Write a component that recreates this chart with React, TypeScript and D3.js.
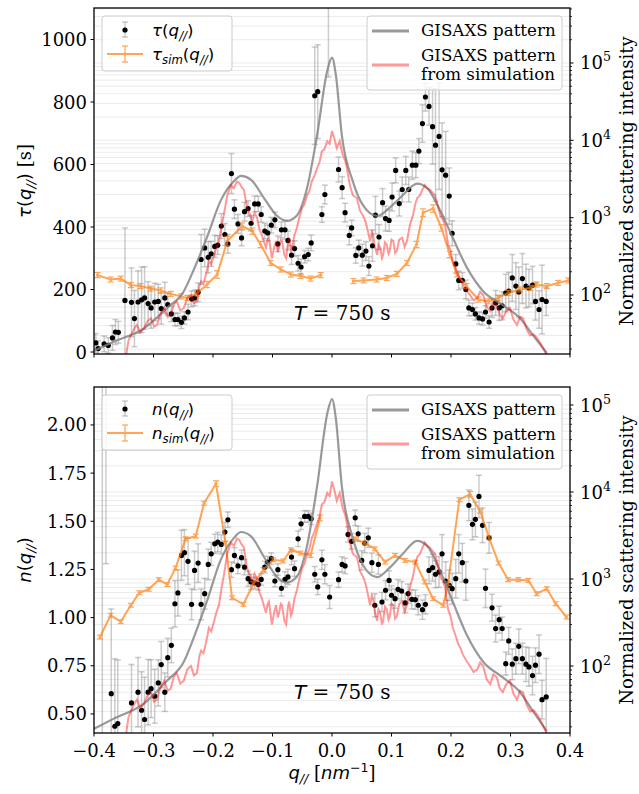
import React from 'react';
import * as d3 from 'd3';

// tick values
const qTicks = [-0.4, -0.3, -0.2, -0.1, 0, 0.1, 0.2, 0.3, 0.4];
const tauTicks = [0, 200, 400, 600, 800, 1000];
const nTicks = [0.5, 0.75, 1.0, 1.25, 1.5, 1.75, 2.0];
const intensityDecades = [1e1, 1e2, 1e3, 1e4, 1e5];

// measured relaxation time: [q, tau, err]
const tauMeasured: [number, number, number][] = [
  [-0.397, 29, 30], [-0.393, 11, 25], [-0.383, 26, 25], [-0.376, 21, 25], [-0.369, 45, 40],
  [-0.364, 64, 40], [-0.359, 63, 35], [-0.348, 165, 232], [-0.337, 159, 110], [-0.332, 107, 90],
  [-0.326, 160, 100], [-0.320, 167, 105], [-0.315, 173, 100], [-0.309, 155, 70], [-0.304, 141, 65],
  [-0.298, 160, 60], [-0.292, 162, 55], [-0.287, 139, 50], [-0.281, 173, 50], [-0.276, 152, 35],
  [-0.270, 122, 25], [-0.264, 104, 20], [-0.259, 104, 20], [-0.253, 95, 20], [-0.248, 109, 20],
  [-0.242, 128, 25], [-0.236, 170, 25], [-0.231, 173, 25], [-0.225, 191, 30], [-0.220, 296, 80],
  [-0.214, 333, 60], [-0.208, 303, 50], [-0.203, 314, 40], [-0.197, 338, 35], [-0.192, 342, 30],
  [-0.186, 403, 40], [-0.180, 376, 35], [-0.175, 346, 30], [-0.169, 571, 64], [-0.164, 457, 30],
  [-0.158, 410, 30], [-0.152, 365, 25], [-0.147, 449, 30], [-0.141, 459, 25], [-0.136, 412, 25],
  [-0.130, 474, 25], [-0.124, 474, 25], [-0.119, 440, 25], [-0.113, 387, 25], [-0.108, 381, 25],
  [-0.102, 406, 25], [-0.096, 423, 25], [-0.091, 346, 25], [-0.085, 391, 25], [-0.079, 391, 30],
  [-0.074, 357, 30], [-0.068, 310, 30], [-0.063, 331, 25], [-0.057, 284, 25], [-0.052, 272, 25],
  [-0.046, 305, 20], [-0.040, 312, 20], [-0.035, 349, 25], [-0.029, 820, 156], [-0.024, 833, 150],
  [-0.017, 440, 25], [-0.012, 504, 30], [-0.006, 1300, 420], [0.011, 584, 40], [0.017, 526, 35],
  [0.022, 446, 30], [0.029, 373, 30], [0.033, 397, 25], [0.040, 309, 25], [0.045, 333, 25],
  [0.051, 310, 35], [0.057, 323, 30], [0.062, 275, 30], [0.068, 340, 50], [0.073, 438, 60],
  [0.079, 368, 40], [0.085, 478, 45], [0.090, 427, 40], [0.096, 421, 35], [0.101, 496, 45],
  [0.107, 581, 40], [0.113, 475, 40], [0.118, 520, 40], [0.124, 581, 45], [0.129, 520, 40],
  [0.135, 598, 45], [0.141, 598, 40], [0.146, 643, 40], [0.152, 731, 60], [0.157, 816, 45],
  [0.163, 786, 60], [0.169, 721, 120], [0.174, 662, 180], [0.180, 690, 170], [0.185, 583, 150],
  [0.191, 566, 140], [0.197, 499, 90], [0.202, 380, 40], [0.208, 282, 30], [0.213, 229, 30],
  [0.219, 229, 25], [0.225, 200, 30], [0.230, 141, 25], [0.236, 136, 20], [0.241, 122, 20],
  [0.247, 109, 20], [0.253, 106, 20], [0.258, 128, 20], [0.264, 96, 20], [0.269, 141, 30],
  [0.275, 157, 40], [0.281, 141, 40], [0.286, 148, 45], [0.292, 189, 60], [0.297, 195, 60],
  [0.303, 237, 75], [0.309, 211, 75], [0.314, 192, 80], [0.320, 235, 80], [0.326, 211, 70],
  [0.331, 205, 60], [0.337, 214, 60], [0.342, 162, 60], [0.348, 136, 60], [0.353, 168, 110],
  [0.360, 162, 45],
];

// simulated relaxation time: [q, tau, err] (null = gap)
const tauSim: ([number, number, number] | null)[] = [
  [-0.394, 246, 8], [-0.372, 232, 8], [-0.355, 235, 8], [-0.338, 214, 8], [-0.322, 211, 8],
  [-0.305, 203, 8], [-0.288, 197, 8], [-0.271, 186, 8], [-0.254, 178, 8], [-0.243, 173, 8],
  [-0.226, 189, 10], [-0.210, 216, 10], [-0.193, 248, 12], [-0.176, 355, 15], [-0.151, 403, 10],
  [-0.134, 387, 10], [-0.120, 344, 10], [-0.103, 285, 8], [-0.086, 264, 8], [-0.069, 248, 8],
  [-0.053, 243, 8], [-0.036, 235, 8], [-0.019, 246, 8], null,
  [0.036, 227, 8], [0.053, 229, 8], [0.075, 232, 8], [0.092, 237, 8], [0.109, 250, 8],
  [0.126, 285, 8], [0.142, 344, 10], [0.153, 446, 12], [0.170, 459, 12], [0.184, 397, 10],
  [0.198, 312, 10], [0.210, 248, 8], [0.226, 211, 8], [0.246, 168, 8], [0.263, 162, 8],
  [0.279, 173, 8], [0.296, 189, 8], [0.316, 200, 8], [0.333, 205, 8], [0.344, 216, 8],
  [0.361, 211, 8], [0.380, 221, 8], [0.397, 229, 8],
];

// measured exponent n: [q, n, err]
const nMeasured: [number, number, number][] = [
  [-0.386, 0.2, 2.2], [-0.380, 2.55, 1.27],
  [-0.371, 0.605, 0.44], [-0.365, 0.436, 0.35], [-0.360, 0.450, 0.33], [-0.337, 0.557, 0.2],
  [-0.326, 0.613, 0.18], [-0.320, 0.519, 0.2], [-0.315, 0.471, 0.22], [-0.309, 0.613, 0.17],
  [-0.304, 0.631, 0.15], [-0.298, 0.592, 0.14], [-0.292, 0.661, 0.12], [-0.287, 0.756, 0.12],
  [-0.281, 0.613, 0.1], [-0.276, 0.792, 0.1], [-0.270, 0.856, 0.09], [-0.264, 1.072, 0.12],
  [-0.259, 1.128, 0.12], [-0.253, 1.323, 0.13], [-0.248, 1.337, 0.12], [-0.242, 1.292, 0.12],
  [-0.236, 1.069, 0.08], [-0.231, 1.245, 0.1], [-0.225, 1.283, 0.1], [-0.220, 1.069, 0.08],
  [-0.214, 1.124, 0.08], [-0.208, 1.276, 0.08], [-0.203, 1.331, 0.06], [-0.197, 1.383, 0.05],
  [-0.192, 1.392, 0.05], [-0.186, 1.380, 0.05], [-0.180, 1.444, 0.05], [-0.175, 1.508, 0.04],
  [-0.169, 1.249, 0.04], [-0.164, 1.323, 0.04], [-0.158, 1.268, 0.04], [-0.152, 1.311, 0.04],
  [-0.147, 1.262, 0.04], [-0.141, 1.202, 0.04], [-0.136, 1.185, 0.04], [-0.130, 1.179, 0.03],
  [-0.124, 1.172, 0.03], [-0.119, 1.198, 0.03], [-0.113, 1.262, 0.03], [-0.108, 1.288, 0.03],
  [-0.102, 1.306, 0.03], [-0.096, 1.190, 0.03], [-0.091, 1.249, 0.03], [-0.085, 1.152, 0.04],
  [-0.079, 1.198, 0.04], [-0.074, 1.211, 0.04], [-0.068, 1.314, 0.04], [-0.063, 1.254, 0.04],
  [-0.057, 1.409, 0.04], [-0.052, 1.487, 0.03], [-0.046, 1.525, 0.03], [-0.040, 1.525, 0.03],
  [-0.035, 1.513, 0.03], [-0.029, 1.225, 0.04], [-0.024, 1.159, 0.04], [-0.017, 1.300, 0.05],
  [-0.012, 1.225, 0.05], [-0.004, 1.107, 0.06], [0.011, 1.197, 0.04], [0.017, 1.276, 0.04],
  [0.022, 1.268, 0.04], [0.027, 1.432, 0.04], [0.033, 1.396, 0.04], [0.039, 1.518, 0.04],
  [0.044, 1.435, 0.04], [0.050, 1.297, 0.05], [0.055, 1.387, 0.05], [0.061, 1.414, 0.05],
  [0.067, 1.285, 0.05], [0.072, 1.064, 0.06], [0.078, 1.276, 0.05], [0.084, 1.081, 0.05],
  [0.090, 1.142, 0.05], [0.096, 1.193, 0.05], [0.100, 1.116, 0.05], [0.106, 1.098, 0.05],
  [0.111, 1.147, 0.05], [0.117, 1.138, 0.05], [0.123, 1.076, 0.05], [0.128, 1.124, 0.05],
  [0.134, 1.095, 0.05], [0.140, 1.093, 0.05], [0.145, 1.064, 0.05], [0.152, 1.041, 0.05],
  [0.157, 1.069, 0.05], [0.163, 1.245, 0.07], [0.169, 1.259, 0.07], [0.174, 1.225, 0.07],
  [0.180, 1.237, 0.08], [0.185, 1.331, 0.1], [0.191, 1.190, 0.1], [0.197, 1.168, 0.08],
  [0.202, 1.150, 0.08], [0.208, 1.202, 0.1], [0.213, 1.331, 0.1], [0.219, 1.285, 0.1],
  [0.225, 1.190, 0.1], [0.230, 1.583, 0.08], [0.236, 1.484, 0.08], [0.241, 1.510, 0.09],
  [0.247, 1.629, 0.11], [0.253, 1.479, 0.09], [0.258, 1.152, 0.1], [0.264, 1.414, 0.08],
  [0.269, 1.051, 0.07], [0.275, 0.943, 0.07], [0.281, 0.989, 0.07], [0.286, 0.943, 0.06],
  [0.292, 0.761, 0.06], [0.297, 0.879, 0.07], [0.303, 0.758, 0.08], [0.309, 0.787, 0.08],
  [0.314, 0.851, 0.09], [0.320, 0.787, 0.08], [0.326, 0.758, 0.09], [0.331, 0.744, 0.1],
  [0.337, 0.699, 0.1], [0.342, 0.753, 0.09], [0.348, 0.810, 0.1], [0.353, 0.574, 0.1],
  [0.360, 0.588, 0.2],
];

// simulated exponent n: [q, n, err] (null = gap)
const nSim: ([number, number, number] | null)[] = [
  [-0.390, 0.899, 0.01], [-0.372, 1.012, 0.01], [-0.355, 0.979, 0.01], [-0.338, 1.064, 0.01],
  [-0.324, 1.129, 0.01], [-0.308, 1.147, 0.01], [-0.291, 1.197, 0.01], [-0.277, 1.172, 0.01],
  [-0.263, 1.257, 0.01], [-0.246, 1.409, 0.01], [-0.229, 1.423, 0.01], [-0.215, 1.594, 0.01],
  [-0.195, 1.695, 0.015], [-0.179, 1.387, 0.01], [-0.168, 1.103, 0.01], [-0.149, 1.069, 0.01],
  [-0.132, 1.176, 0.01], [-0.115, 1.249, 0.01], [-0.099, 1.300, 0.01], [-0.082, 1.294, 0.01],
  [-0.069, 1.352, 0.01], [-0.053, 1.335, 0.01], [-0.036, 1.323, 0.01], [-0.020, 1.517, 0.015], null,
  [0.039, 1.409, 0.01], [0.055, 1.387, 0.01], [0.072, 1.357, 0.01], [0.089, 1.288, 0.01],
  [0.106, 1.323, 0.01], [0.123, 1.297, 0.01], [0.140, 1.288, 0.01], [0.156, 1.185, 0.01],
  [0.170, 1.098, 0.01], [0.187, 1.064, 0.01], [0.195, 1.176, 0.01], [0.214, 1.612, 0.01],
  [0.232, 1.640, 0.015], [0.249, 1.553, 0.01], [0.264, 1.414, 0.01], [0.280, 1.283, 0.01],
  [0.296, 1.197, 0.01], [0.313, 1.197, 0.01], [0.330, 1.193, 0.01], [0.344, 1.124, 0.01],
  [0.361, 1.150, 0.01], [0.376, 1.072, 0.01], [0.394, 1.003, 0.01],
];

// GISAXS intensity profile: [q, intensity]
const gisaxsPattern: [number, number][] = [
  [-0.400, 19], [-0.366, 25], [-0.316, 37], [-0.277, 68], [-0.249, 112], [-0.232, 215],
  [-0.210, 560], [-0.187, 1660], [-0.165, 2950], [-0.153, 3470], [-0.136, 3090], [-0.114, 1780],
  [-0.092, 1050], [-0.076, 910], [-0.059, 1070], [-0.042, 2400], [-0.025, 11700], [-0.008, 79400],
  [0.000, 117000], [0.0064, 70800], [0.0165, 11700], [0.035, 2950], [0.052, 1450], [0.076, 1050],
  [0.097, 1350], [0.119, 1950], [0.143, 2750], [0.160, 2400], [0.182, 1230], [0.203, 550],
  [0.227, 224], [0.254, 112], [0.287, 74], [0.316, 50], [0.338, 30], [0.361, 17.8],
];

// GISAXS intensity from simulation: [q, intensity]
const gisaxsSim: [number, number][] = [
  [-0.346, 16.6], [-0.342, 26], [-0.338, 30], [-0.333, 36], [-0.328, 41], [-0.322, 33],
  [-0.316, 37], [-0.310, 46], [-0.304, 50], [-0.299, 39], [-0.294, 41], [-0.288, 58],
  [-0.282, 68], [-0.276, 52], [-0.271, 55], [-0.266, 75], [-0.261, 83], [-0.255, 63],
  [-0.249, 68], [-0.243, 92], [-0.237, 100], [-0.232, 78], [-0.227, 83], [-0.223, 130],
  [-0.220, 151], [-0.216, 140], [-0.212, 182], [-0.209, 230], [-0.207, 275], [-0.203, 250],
  [-0.198, 331], [-0.194, 420], [-0.190, 500], [-0.186, 760], [-0.182, 1070], [-0.176, 1950],
  [-0.170, 2630], [-0.165, 2400], [-0.160, 2900], [-0.156, 2820], [-0.152, 2500], [-0.148, 2290],
  [-0.143, 1350], [-0.138, 1100], [-0.134, 910], [-0.130, 1150], [-0.126, 1000], [-0.122, 700],
  [-0.118, 600], [-0.114, 480], [-0.111, 410], [-0.108, 520], [-0.106, 550], [-0.103, 380],
  [-0.101, 300], [-0.097, 420], [-0.094, 500], [-0.091, 360], [-0.089, 410], [-0.086, 520],
  [-0.084, 500], [-0.080, 330], [-0.077, 300], [-0.074, 480], [-0.072, 550], [-0.069, 380],
  [-0.067, 410], [-0.063, 600], [-0.059, 740], [-0.055, 1000], [-0.050, 1350], [-0.046, 1500],
  [-0.042, 1950], [-0.038, 2200], [-0.034, 2950], [-0.030, 3400], [-0.025, 4370], [-0.021, 5200],
  [-0.017, 7240], [-0.013, 7600], [-0.008, 9770], [-0.004, 9000], [0.000, 13200], [0.004, 10500],
  [0.008, 7940], [0.013, 9770], [0.018, 6460], [0.022, 5500], [0.025, 4370], [0.030, 2630],
  [0.035, 1950], [0.042, 1780], [0.047, 1230], [0.052, 1070], [0.056, 900], [0.059, 740],
  [0.064, 500], [0.067, 650], [0.069, 600], [0.072, 420], [0.076, 330], [0.078, 450],
  [0.081, 410], [0.084, 300], [0.086, 330], [0.089, 480], [0.092, 450], [0.095, 340],
  [0.097, 370], [0.100, 520], [0.103, 500], [0.106, 350], [0.109, 370], [0.113, 520],
  [0.118, 550], [0.122, 420], [0.126, 500], [0.131, 810], [0.136, 1070], [0.140, 1500],
  [0.143, 1780], [0.148, 1950], [0.152, 2300], [0.156, 2630], [0.160, 2400], [0.165, 2290],
  [0.169, 2100], [0.173, 1950], [0.178, 1400], [0.182, 1070], [0.186, 950], [0.190, 810],
  [0.195, 450], [0.199, 380], [0.203, 275], [0.208, 220], [0.212, 180], [0.216, 160],
  [0.220, 135], [0.226, 115], [0.232, 100], [0.238, 85], [0.244, 91], [0.249, 110],
  [0.254, 100], [0.260, 70], [0.266, 62], [0.271, 80], [0.277, 74], [0.282, 55],
  [0.287, 50], [0.293, 62], [0.299, 68], [0.305, 48], [0.311, 41], [0.316, 52],
  [0.321, 50], [0.327, 36], [0.333, 30], [0.339, 31], [0.345, 27.5], [0.350, 24],
  [0.355, 20.4], [0.361, 16.6],
];

const W = 639;
const H = 794;
const X0 = 94;
const X1 = 570;
const SERIF = 'DejaVu Serif';
const SANS = 'DejaVu Sans';
const ORANGE = '#ff7f0e';

const x = d3.scaleLinear().domain([-0.4, 0.4]).range([X0, X1]);

type Row = [number, number, number];

function QSym({ name, sub, fs }: { name: string; sub?: string; fs: number }) {
  const d = fs * 0.22;
  return (
    <>
      <tspan fontFamily={SANS} fontStyle="italic">{name}</tspan>
      {sub ? <tspan fontFamily={SANS} fontStyle="italic" fontSize={fs * 0.7} dy={d}>{sub}</tspan> : null}
      <tspan fontFamily={SANS} dy={sub ? -d : 0}>(</tspan>
      <tspan fontFamily={SANS} fontStyle="italic">q</tspan>
      <tspan fontFamily={SANS} fontStyle="italic" fontSize={fs * 0.7} dy={d}>//</tspan>
      <tspan fontFamily={SANS} dy={-d}>)</tspan>
    </>
  );
}

function Panel(props: {
  id: string;
  y0: number;
  y1: number;
  yL: d3.ScaleLinear<number, number>;
  yR: d3.ScaleLogarithmic<number, number>;
  measured: Row[];
  sim: (Row | null)[];
  leftTicks: number[];
  leftFmt: (v: number) => string;
  sym: string;
  ylabel: string;
  xLabels: boolean;
}) {
  const { id, y0, y1, yL, yR, measured, sim, leftTicks, leftFmt, sym, ylabel, xLabels } = props;
  const [lo, hi] = yR.domain();
  const majors = intensityDecades.filter((d) => d >= lo && d <= hi);
  const minors: number[] = [];
  intensityDecades.forEach((d) => {
    for (let k = 2; k <= 9; k++) {
      const v = d * k;
      if (v >= lo && v <= hi) minors.push(v);
    }
  });
  const gridVals = [...majors, ...minors];

  const simLine = d3
    .line<Row | null>()
    .defined((d) => d !== null)
    .x((d) => x((d as Row)[0]))
    .y((d) => yL((d as Row)[1]));
  const patLine = d3
    .line<[number, number]>()
    .x((d) => x(d[0]))
    .y((d) => yR(d[1]))
    .curve(d3.curveMonotoneX);
  const simPatLine = d3
    .line<[number, number]>()
    .x((d) => x(d[0]))
    .y((d) => yR(d[1]));

  const midY = (y0 + y1) / 2;
  const fsLeg = 16.7;
  const lx = X0 + 8; // left legend
  const ly = y0 + 8;
  const rx = 367;

  return (
    <g>
      <defs>
        <clipPath id={id}>
          <rect x={X0} y={y0} width={X1 - X0} height={y1 - y0} />
        </clipPath>
      </defs>
      <g clipPath={`url(#${id})`}>
        {gridVals.map((v, i) => (
          <line key={i} x1={X0} x2={X1} y1={yR(v)} y2={yR(v)} stroke="#ebebeb" strokeWidth={1} />
        ))}
        {/* measured with error bars */}
        <g stroke="#808080" strokeOpacity={0.4} strokeWidth={1.5}>
          {measured.map((d, i) => {
            const px = x(d[0]);
            const ya = yL(d[1] - d[2]);
            const yb = yL(d[1] + d[2]);
            return (
              <g key={i}>
                <line x1={px} x2={px} y1={ya} y2={yb} />
                <line x1={px - 3} x2={px + 3} y1={ya} y2={ya} />
                <line x1={px - 3} x2={px + 3} y1={yb} y2={yb} />
              </g>
            );
          })}
        </g>
        {measured.map((d, i) => (
          <circle key={i} cx={x(d[0])} cy={yL(d[1])} r={2.6} fill="#000" />
        ))}
        {/* simulation */}
        <g opacity={0.7}>
          <path d={simLine(sim) || ''} fill="none" stroke={ORANGE} strokeWidth={2} />
          {sim.map((d, i) =>
            d ? (
              <g key={i} stroke={ORANGE} strokeWidth={1.2}>
                <line x1={x(d[0])} x2={x(d[0])} y1={yL(d[1] - d[2])} y2={yL(d[1] + d[2])} />
                <line x1={x(d[0]) - 3} x2={x(d[0]) + 3} y1={yL(d[1] - d[2])} y2={yL(d[1] - d[2])} />
                <line x1={x(d[0]) - 3} x2={x(d[0]) + 3} y1={yL(d[1] + d[2])} y2={yL(d[1] + d[2])} />
                <circle cx={x(d[0])} cy={yL(d[1])} r={1.6} fill={ORANGE} stroke="none" />
              </g>
            ) : null
          )}
        </g>
        <path d={patLine(gisaxsPattern) || ''} fill="none" stroke="#808080" strokeOpacity={0.8} strokeWidth={2.2} />
        <path d={simPatLine(gisaxsSim) || ''} fill="none" stroke="#ff0000" strokeOpacity={0.4} strokeWidth={2} />
      </g>

      {/* spines */}
      <rect x={X0} y={y0} width={X1 - X0} height={y1 - y0} fill="none" stroke="#000" strokeWidth={1.3} />

      {/* left ticks */}
      {leftTicks.map((v) => (
        <g key={v}>
          <line x1={X0 - 3.5} x2={X0} y1={yL(v)} y2={yL(v)} stroke="#000" />
          <text x={X0 - 7} y={yL(v) + 6.5} textAnchor="end" fontFamily={SERIF} fontSize={18}>
            {leftFmt(v)}
          </text>
        </g>
      ))}

      {/* right ticks */}
      {majors.map((v) => (
        <g key={v}>
          <line x1={X1} x2={X1 + 3.5} y1={yR(v)} y2={yR(v)} stroke="#000" />
          <text x={X1 + 10} y={yR(v) + 6.5} fontFamily={SERIF} fontSize={18}>
            10<tspan fontSize={12.6} dy={-8}>{Math.round(Math.log10(v))}</tspan>
          </text>
        </g>
      ))}
      {minors.map((v) => (
        <line key={v} x1={X1} x2={X1 + 2} y1={yR(v)} y2={yR(v)} stroke="#000" strokeWidth={0.8} />
      ))}

      {/* x ticks */}
      {qTicks.map((v) => (
        <g key={v}>
          <line x1={x(v)} x2={x(v)} y1={y1} y2={y1 + 3.5} stroke="#000" />
          {xLabels ? (
            <text x={x(v)} y={y1 + 24} textAnchor="middle" fontFamily={SERIF} fontSize={18}>
              {v < 0 ? '\u2212' : ''}
              {Math.abs(v).toFixed(1)}
            </text>
          ) : null}
        </g>
      ))}

      {/* y labels */}
      <text transform={`translate(31,${midY}) rotate(-90)`} textAnchor="middle" fontSize={18} fontFamily={SERIF}>
        <QSym name={sym} fs={18} />
        {ylabel ? <tspan fontFamily={SERIF}>{ylabel}</tspan> : null}
      </text>
      <text transform={`translate(633,${midY}) rotate(-90)`} textAnchor="middle" fontSize={18} fontFamily={SERIF}>
        Normalized scattering intensity
      </text>

      {/* annotation */}
      <text x={294} y={y0 + 312} fontSize={20} fontFamily={SERIF}>
        <tspan fontFamily={SANS} fontStyle="italic">T</tspan> = 750 s
      </text>

      {/* left legend */}
      <rect x={lx} y={ly} width={130} height={55} rx={3} fill="#fff" fillOpacity={0.8} stroke="#cccccc" />
      <g stroke="#808080" strokeOpacity={0.4} strokeWidth={1.5}>
        <line x1={125} x2={125} y1={ly + 6} y2={ly + 21} />
        <line x1={122} x2={128} y1={ly + 6} y2={ly + 6} />
        <line x1={122} x2={128} y1={ly + 21} y2={ly + 21} />
      </g>
      <circle cx={125} cy={ly + 14} r={2.6} fill="#000" />
      <text x={152} y={ly + 20} fontSize={fsLeg}>
        <QSym name={sym} fs={fsLeg} />
      </text>
      <g opacity={0.7} stroke={ORANGE}>
        <line x1={107} x2={143} y1={ly + 38} y2={ly + 38} strokeWidth={2} />
        <line x1={125} x2={125} y1={ly + 30} y2={ly + 46} strokeWidth={1.2} />
        <line x1={122} x2={128} y1={ly + 30} y2={ly + 30} strokeWidth={1.2} />
        <line x1={122} x2={128} y1={ly + 46} y2={ly + 46} strokeWidth={1.2} />
        <circle cx={125} cy={ly + 38} r={1.6} fill={ORANGE} stroke="none" />
      </g>
      <text x={152} y={ly + 44} fontSize={fsLeg}>
        <QSym name={sym} sub="sim" fs={fsLeg} />
      </text>

      {/* right legend */}
      <rect x={rx} y={ly} width={195} height={74} rx={3} fill="#fff" fillOpacity={0.8} stroke="#cccccc" />
      <line x1={372} x2={409} y1={ly + 15} y2={ly + 15} stroke="#808080" strokeOpacity={0.8} strokeWidth={3} />
      <text x={421} y={ly + 20} fontSize={fsLeg} fontFamily={SERIF}>GISAXS pattern</text>
      <line x1={372} x2={409} y1={ly + 49} y2={ly + 49} stroke="#ff0000" strokeOpacity={0.4} strokeWidth={3} />
      <text x={421} y={ly + 45} fontSize={fsLeg} fontFamily={SERIF}>GISAXS pattern</text>
      <text x={421} y={ly + 64} fontSize={fsLeg} fontFamily={SERIF}>from simulation</text>
    </g>
  );
}

export default function App() {
  const yTau = d3.scaleLinear().domain([-6.4, 1100.8]).range([354, 8]);
  const yTauR = d3.scaleLog().domain([Math.pow(10, 1.237), Math.pow(10, 5.711)]).range([354, 8]);
  const yN = d3.scaleLinear().domain([0.401, 2.197]).range([733, 387]);
  const yNR = d3.scaleLog().domain([Math.pow(10, 1.23), Math.pow(10, 5.207)]).range([733, 387]);

  return (
    <svg
      width={W}
      height={H}
      style={{ position: 'absolute', left: 0, top: 0, background: '#fff' }}
      fontFamily={SERIF}
    >
      <rect width={W} height={H} fill="#fff" />
      <Panel
        id="clipTop"
        y0={8}
        y1={354}
        yL={yTau}
        yR={yTauR}
        measured={tauMeasured}
        sim={tauSim}
        leftTicks={tauTicks}
        leftFmt={(v) => String(v)}
        sym={'\u03c4'}
        ylabel=" [s]"
        xLabels={false}
      />
      <Panel
        id="clipBottom"
        y0={387}
        y1={733}
        yL={yN}
        yR={yNR}
        measured={nMeasured}
        sim={nSim}
        leftTicks={nTicks}
        leftFmt={(v) => v.toFixed(2)}
        sym="n"
        ylabel=""
        xLabels={true}
      />
      <text x={332} y={779} textAnchor="middle" fontSize={18} fontFamily={SERIF}>
        <tspan fontFamily={SANS} fontStyle="italic">q</tspan>
        <tspan fontFamily={SANS} fontStyle="italic" fontSize={12.6} dy={4}>//</tspan>
        <tspan dy={-4}> [</tspan>
        <tspan fontFamily={SANS} fontStyle="italic">nm</tspan>
        <tspan fontFamily={SANS} fontSize={12.6} dy={-7}>{'\u2212'}1</tspan>
        <tspan dy={7}>]</tspan>
      </text>
    </svg>
  );
}
